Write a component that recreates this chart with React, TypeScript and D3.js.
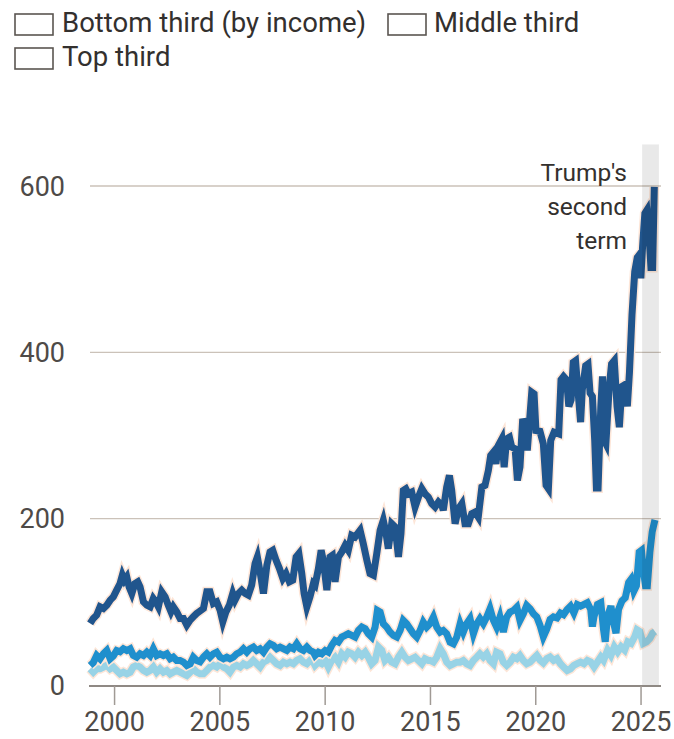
import React from "react";
import * as d3 from "d3";

const yearTicks = [2000, 2005, 2010, 2015, 2020, 2025];
const valueTicks = [0, 200, 400, 600];
const legendLabels = ["Bottom third (by income)", "Middle third", "Top third"];
const annotationLines = ["Trump's", "second", "term"];
const secondTerm = [2025.05, 2025.85];

// [decimal year, value]
const bottomThird: [number, number][] = [
  [1998.84, 74], [1998.99, 80], [1999.15, 84], [1999.31, 94], [1999.47, 92], [1999.63, 96], [1999.79, 102], [1999.94, 106],
  [2000.10, 114], [2000.26, 122], [2000.37, 132], [2000.47, 126], [2000.58, 130], [2000.69, 118], [2000.82, 110], [2000.97, 122],
  [2001.10, 124], [2001.21, 118], [2001.37, 100], [2001.53, 96], [2001.69, 94], [2001.84, 104], [2001.96, 100], [2002.08, 94],
  [2002.24, 112], [2002.40, 106], [2002.55, 96], [2002.68, 88], [2002.79, 94], [2002.95, 88], [2003.11, 80], [2003.27, 80],
  [2003.43, 72], [2003.59, 78], [2003.74, 82], [2003.90, 86], [2004.06, 89], [2004.22, 92], [2004.38, 112], [2004.53, 112],
  [2004.69, 98], [2004.85, 100], [2005.01, 90], [2005.14, 76], [2005.29, 88], [2005.45, 96], [2005.61, 110], [2005.72, 102],
  [2005.88, 110], [2006.04, 114], [2006.20, 110], [2006.35, 108], [2006.51, 120], [2006.67, 146], [2006.78, 154], [2006.91, 136],
  [2007.07, 110], [2007.23, 144], [2007.38, 160], [2007.51, 162], [2007.67, 150], [2007.83, 140], [2007.99, 128], [2008.14, 134],
  [2008.30, 124], [2008.46, 126], [2008.62, 154], [2008.75, 158], [2008.89, 134], [2009.00, 110], [2009.13, 94], [2009.28, 106],
  [2009.44, 122], [2009.52, 120], [2009.68, 140], [2009.81, 162], [2009.91, 150], [2010.08, 114], [2010.23, 154], [2010.34, 156],
  [2010.47, 124], [2010.63, 154], [2010.79, 160], [2010.95, 168], [2011.10, 162], [2011.26, 180], [2011.42, 178], [2011.66, 186],
  [2011.81, 170], [2011.98, 150], [2012.13, 134], [2012.29, 132], [2012.45, 158], [2012.61, 186], [2012.76, 198], [2012.88, 184],
  [2013.00, 164], [2013.16, 194], [2013.32, 190], [2013.48, 154], [2013.60, 182], [2013.71, 234], [2013.83, 236], [2013.95, 230],
  [2014.11, 232], [2014.27, 214], [2014.43, 226], [2014.59, 236], [2014.74, 230], [2014.90, 226], [2015.06, 218], [2015.22, 214],
  [2015.38, 220], [2015.54, 216], [2015.61, 210], [2015.77, 238], [2015.90, 252], [2016.01, 234], [2016.17, 194], [2016.33, 212],
  [2016.49, 218], [2016.64, 194], [2016.80, 194], [2016.96, 206], [2017.12, 208], [2017.27, 202], [2017.44, 238], [2017.59, 240],
  [2017.75, 258], [2017.86, 276], [2017.99, 280], [2018.11, 266], [2018.22, 288], [2018.39, 296], [2018.50, 262], [2018.62, 296],
  [2018.75, 298], [2018.86, 286], [2019.02, 284], [2019.13, 246], [2019.25, 262], [2019.38, 320], [2019.49, 312], [2019.60, 282],
  [2019.73, 326], [2019.81, 352], [2019.92, 350], [2020.01, 306], [2020.20, 305], [2020.36, 290], [2020.49, 240], [2020.60, 236],
  [2020.71, 294], [2020.87, 304], [2021.09, 302], [2021.20, 367], [2021.32, 371], [2021.46, 367], [2021.57, 335], [2021.68, 343],
  [2021.78, 388], [2021.89, 390], [2022.00, 355], [2022.13, 316], [2022.21, 355], [2022.37, 384], [2022.48, 386], [2022.58, 351],
  [2022.69, 347], [2022.80, 294], [2022.88, 237], [2022.96, 237], [2023.09, 335], [2023.17, 371], [2023.25, 294], [2023.33, 290],
  [2023.49, 359], [2023.60, 386], [2023.73, 390], [2023.86, 335], [2023.97, 310], [2024.09, 359], [2024.22, 361], [2024.35, 335],
  [2024.45, 376], [2024.57, 445], [2024.70, 497], [2024.82, 514], [2024.94, 518], [2024.99, 489], [2025.07, 526], [2025.18, 567],
  [2025.28, 571], [2025.37, 546], [2025.47, 502], [2025.55, 502], [2025.63, 599],
];

const middleThird: [number, number][] = [
  [1998.84, 23.5], [1998.99, 27], [1999.15, 35.5], [1999.31, 31.5], [1999.47, 37.5], [1999.63, 41.5], [1999.79, 31.5], [1999.94, 35],
  [2000.10, 41.5], [2000.26, 40], [2000.42, 43.6], [2000.58, 41.5], [2000.74, 43.6], [2000.89, 35.5], [2001.05, 33.5], [2001.21, 37.5],
  [2001.37, 35.5], [2001.53, 39.5], [2001.69, 35.5], [2001.84, 43.6], [2002.00, 35.5], [2002.16, 37.5], [2002.32, 35.5], [2002.48, 37.5],
  [2002.64, 31.5], [2002.79, 33.5], [2002.95, 29.5], [2003.11, 29.5], [2003.27, 27.5], [2003.43, 23.5], [2003.59, 25.5], [2003.74, 33.5],
  [2003.90, 29.5], [2004.06, 28], [2004.22, 33.5], [2004.38, 37.5], [2004.53, 33.5], [2004.69, 37.5], [2004.85, 39.5], [2005.01, 33.5],
  [2005.17, 31.5], [2005.33, 33.5], [2005.48, 31.5], [2005.64, 33.5], [2005.80, 37.5], [2005.96, 39.5], [2006.12, 43.6], [2006.28, 39.5],
  [2006.43, 43.6], [2006.59, 45.6], [2006.75, 41.5], [2006.91, 43.6], [2007.07, 39.5], [2007.23, 45.6], [2007.38, 49.6], [2007.54, 47.6],
  [2007.70, 43.6], [2007.86, 45.6], [2008.02, 43.6], [2008.18, 41.5], [2008.33, 45.6], [2008.49, 43.6], [2008.65, 49.6], [2008.81, 43.6],
  [2008.97, 41.5], [2009.13, 45.6], [2009.28, 41.5], [2009.44, 39.5], [2009.52, 35.5], [2009.68, 39.5], [2009.84, 37.6], [2010.00, 41.5],
  [2010.15, 39.5], [2010.31, 47.6], [2010.47, 53.6], [2010.63, 51.6], [2010.79, 57.6], [2010.95, 59.6], [2011.10, 61.7], [2011.26, 59.6],
  [2011.42, 57.6], [2011.58, 65.6], [2011.74, 69.6], [2011.90, 67.6], [2012.05, 61.7], [2012.21, 57.6], [2012.37, 69.6], [2012.48, 89.7],
  [2012.61, 87.7], [2012.76, 73.7], [2012.92, 69.6], [2013.08, 63.6], [2013.24, 59.6], [2013.40, 57.6], [2013.56, 65.6], [2013.71, 77.7],
  [2013.87, 73.7], [2014.03, 67.6], [2014.19, 61.7], [2014.35, 57.6], [2014.51, 65.6], [2014.66, 75.7], [2014.82, 69.6], [2014.98, 73.7],
  [2015.14, 81.7], [2015.30, 69.6], [2015.46, 63.6], [2015.61, 65.6], [2015.77, 61.7], [2015.93, 51.6], [2016.09, 49.6], [2016.25, 57.6],
  [2016.41, 73.7], [2016.56, 63.6], [2016.72, 73.7], [2016.88, 79.7], [2017.04, 61.7], [2017.20, 73.7], [2017.35, 79.7], [2017.51, 73.7],
  [2017.67, 81.7], [2017.83, 91.8], [2017.99, 77.7], [2018.14, 69.6], [2018.30, 81.7], [2018.46, 63.6], [2018.62, 81.7], [2018.78, 87.7],
  [2018.94, 89.7], [2019.10, 93.7], [2019.25, 77.7], [2019.41, 85.7], [2019.57, 95.7], [2019.73, 91.8], [2019.89, 85.7], [2020.05, 81.7],
  [2020.20, 72], [2020.36, 58], [2020.52, 67], [2020.68, 79], [2020.84, 82], [2021.01, 80.6], [2021.17, 86.6], [2021.32, 84.6],
  [2021.49, 90.7], [2021.65, 94.8], [2021.81, 86.6], [2021.97, 96.8], [2022.13, 94.8], [2022.29, 96.8], [2022.45, 98.9], [2022.61, 90.7],
  [2022.69, 70.3], [2022.77, 82.6], [2022.93, 96.8], [2023.09, 98.9], [2023.22, 66.3], [2023.30, 52], [2023.41, 82.6], [2023.57, 94.8],
  [2023.70, 74.4], [2023.81, 62.3], [2023.93, 90.7], [2024.09, 100.9], [2024.25, 104.9], [2024.41, 123.2], [2024.53, 127.3], [2024.66, 113],
  [2024.78, 119.2], [2024.91, 159.8], [2025.02, 161.9], [2025.10, 139.6], [2025.21, 119.2], [2025.30, 119.2], [2025.42, 159.8], [2025.53, 184.3],
  [2025.66, 198.5],
];

const topThird: [number, number][] = [
  [1998.84, 19.5], [1998.99, 15.4], [1999.15, 19.5], [1999.31, 19.5], [1999.47, 21.6], [1999.63, 23.6], [1999.79, 19.5], [1999.94, 21.6],
  [2000.10, 17.5], [2000.26, 13.4], [2000.42, 15.4], [2000.58, 13.4], [2000.74, 15.4], [2000.89, 21.6], [2001.05, 23.6], [2001.21, 21.6],
  [2001.37, 17.5], [2001.53, 15.4], [2001.69, 17.5], [2001.84, 21.6], [2002.00, 15.4], [2002.16, 19.5], [2002.32, 15.4], [2002.48, 17.5],
  [2002.64, 13.4], [2002.79, 15.4], [2002.95, 17.5], [2003.11, 15.4], [2003.27, 13.4], [2003.43, 11.4], [2003.59, 15.4], [2003.74, 19.5],
  [2003.90, 15.4], [2004.06, 13.4], [2004.22, 13.4], [2004.38, 17.5], [2004.53, 21.5], [2004.69, 23.5], [2004.85, 21.5], [2005.01, 25.5],
  [2005.17, 21.5], [2005.33, 19.5], [2005.48, 15.4], [2005.64, 21.5], [2005.80, 23.5], [2005.96, 21.5], [2006.12, 25.5], [2006.28, 23.5],
  [2006.43, 25.5], [2006.59, 29.5], [2006.75, 25.5], [2006.91, 21.5], [2007.07, 27.5], [2007.23, 29.5], [2007.38, 33.5], [2007.54, 29.5],
  [2007.70, 25.5], [2007.86, 23.5], [2008.02, 27.5], [2008.18, 25.5], [2008.33, 27.5], [2008.49, 25.5], [2008.65, 29.5], [2008.81, 31.5],
  [2008.97, 27.5], [2009.13, 25.5], [2009.28, 29.5], [2009.44, 27.5], [2009.52, 23.5], [2009.68, 27.5], [2009.84, 25.5], [2010.00, 29.5],
  [2010.15, 21.5], [2010.31, 29.5], [2010.47, 33.5], [2010.63, 27.5], [2010.79, 37.6], [2010.95, 33.5], [2011.10, 39.5], [2011.26, 37.6],
  [2011.42, 33.5], [2011.58, 39.5], [2011.74, 35.5], [2011.90, 39.5], [2012.05, 33.5], [2012.21, 25.5], [2012.37, 29.5], [2012.53, 45.5],
  [2012.69, 41.5], [2012.84, 29.5], [2013.00, 33.5], [2013.16, 27.5], [2013.32, 25.5], [2013.48, 33.5], [2013.64, 39.5], [2013.79, 33.5],
  [2013.95, 29.5], [2014.11, 31.5], [2014.27, 33.5], [2014.43, 29.5], [2014.59, 25.5], [2014.74, 31.5], [2014.90, 29.5], [2014.98, 29.5],
  [2015.14, 27.5], [2015.30, 33.5], [2015.46, 43.6], [2015.61, 37.6], [2015.77, 27.5], [2015.93, 23.5], [2016.09, 25.5], [2016.25, 27.5],
  [2016.41, 27.5], [2016.56, 29.5], [2016.72, 25.5], [2016.88, 23.5], [2017.04, 29.5], [2017.20, 33.5], [2017.35, 37.6], [2017.51, 33.5],
  [2017.67, 37.6], [2017.83, 29.5], [2017.99, 25.5], [2018.14, 39.5], [2018.30, 37.6], [2018.46, 27.5], [2018.62, 23.5], [2018.78, 27.5],
  [2018.94, 33.5], [2019.10, 31.5], [2019.25, 35.5], [2019.41, 29.5], [2019.57, 25.5], [2019.73, 27.5], [2019.89, 31.5], [2020.05, 35.5],
  [2020.20, 30], [2020.36, 26.5], [2020.53, 31.7], [2020.68, 33.7], [2020.85, 29.6], [2021.01, 31.7], [2021.17, 25.6], [2021.32, 21.6],
  [2021.49, 17.5], [2021.65, 19.5], [2021.81, 23.6], [2021.97, 25.6], [2022.13, 27.6], [2022.29, 25.6], [2022.45, 29.6], [2022.61, 27.6],
  [2022.77, 21.6], [2022.93, 27.6], [2023.09, 33.7], [2023.22, 29.6], [2023.41, 41.9], [2023.57, 35.7], [2023.73, 46], [2023.89, 39.9],
  [2024.05, 46], [2024.22, 41.9], [2024.37, 52], [2024.53, 50], [2024.70, 58.2], [2024.81, 66.3], [2024.94, 64.3], [2025.10, 50],
  [2025.26, 52], [2025.42, 56.1], [2025.55, 62.3], [2025.66, 64.3],
];

const seriesColors = ["#20558d", "#1f8fcd", "#98d3e6"];

export default function App() {
  const W = 674;
  const H = 739;
  const x = d3.scaleLinear().domain([1998.8, 2025.9]).range([89.3, 660]);
  const y = d3.scaleLinear().domain([0, 600]).range([685, 186]);
  const line = d3
    .line<[number, number]>()
    .x((d) => x(d[0]))
    .y((d) => y(d[1]));

  const series = [
    { data: topThird, color: seriesColors[2] },
    { data: middleThird, color: seriesColors[1] },
    { data: bottomThird, color: seriesColors[0] },
  ];
  const font = "Roboto, 'Noto Sans', sans-serif";
  const legendPos = [
    { bx: 15, by: 14, tx: 62, ty: 32 },
    { bx: 388, by: 14, tx: 434, ty: 32 },
    { bx: 15, by: 48, tx: 62, ty: 66 },
  ];

  return (
    <svg
      width={W}
      height={H}
      style={{ position: "absolute", left: 0, top: 0 }}
      fontFamily={font}
    >
      <rect width={W} height={H} fill="#ffffff" />
      {legendLabels.map((lab, i) => (
        <g key={lab}>
          <rect
            x={legendPos[i].bx}
            y={legendPos[i].by}
            width={38}
            height={21}
            fill="#ffffff"
            stroke="#5a5551"
            strokeWidth={1.6}
          />
          <text x={legendPos[i].tx} y={legendPos[i].ty} fontSize={27.5} fill="#33302e">
            {lab}
          </text>
        </g>
      ))}
      {valueTicks
        .filter((v) => v > 0)
        .map((v) => (
          <line key={v} x1={90} x2={661} y1={y(v)} y2={y(v)} stroke="#cbc2b9" strokeWidth={1.4} />
        ))}
      {valueTicks.map((v) => (
        <text key={v} x={65} y={y(v)} dy="0.36em" textAnchor="end" fontSize={27} fill="#4e4a47">
          {v}
        </text>
      ))}
      {series.map((s, i) => (
        <g key={i}>
          <path d={line(s.data) || ""} fill="none" stroke="#fde6d8" strokeWidth={10} />
          <path d={line(s.data) || ""} fill="none" stroke={s.color} strokeWidth={7} />
        </g>
      ))}
      <rect
        x={x(secondTerm[0])}
        y={y(650)}
        width={x(secondTerm[1]) - x(secondTerm[0])}
        height={y(0) - y(650)}
        fill="#000000"
        fillOpacity={0.085}
      />
      <line x1={89} x2={661} y1={y(0) + 1} y2={y(0) + 1} stroke="#8f8984" strokeWidth={2} />
      {yearTicks.map((t) => (
        <g key={t}>
          <line x1={x(t)} x2={x(t)} y1={y(0) + 1} y2={705} stroke="#a09a95" strokeWidth={1.5} />
          <text x={x(t)} y={731} textAnchor="middle" fontSize={27} fill="#4e4a47">
            {t}
          </text>
        </g>
      ))}
      {annotationLines.map((t, i) => (
        <text key={t} x={627} y={181 + i * 34} textAnchor="end" fontSize={24.5} fill="#33302e">
          {t}
        </text>
      ))}
    </svg>
  );
}
